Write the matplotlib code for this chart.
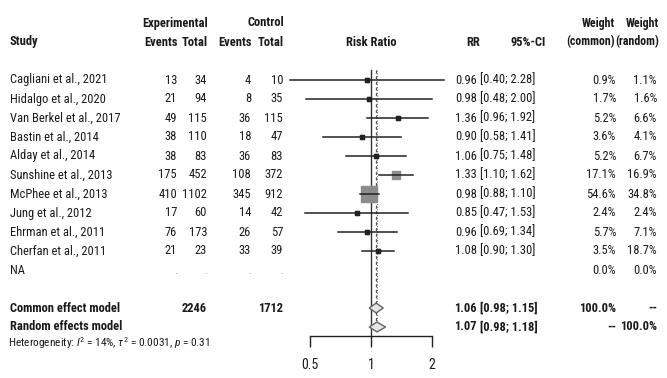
import matplotlib
matplotlib.use("Agg")
import matplotlib.pyplot as plt
import matplotlib.transforms as mtransforms
from matplotlib.patches import Polygon

plt.rcParams['font.family'] = ['Roboto Condensed', 'Liberation Sans', 'DejaVu Sans']
plt.rcParams['mathtext.fontset'] = 'custom'
plt.rcParams['mathtext.rm'] = 'Roboto Condensed'
plt.rcParams['mathtext.it'] = 'Roboto Condensed:italic'

# ---------------- data ----------------
studies = ["Cagliani et al., 2021", "Hidalgo et al., 2020", "Van Berkel et al., 2017",
           "Bastin et al., 2014", "Alday et al., 2014", "Sunshine et al., 2013",
           "McPhee et al., 2013", "Jung et al., 2012", "Ehrman et al., 2011",
           "Cherfan et al., 2011"]
exp_events = [13, 21, 49, 38, 38, 175, 410, 17, 76, 21]
exp_total = [34, 94, 115, 110, 83, 452, 1102, 60, 173, 23]
ctrl_events = [4, 8, 36, 18, 36, 108, 345, 14, 26, 33]
ctrl_total = [10, 35, 115, 47, 83, 372, 912, 42, 57, 39]
rr = [0.96, 0.98, 1.36, 0.90, 1.06, 1.33, 0.98, 0.85, 0.96, 1.08]
ci_low = [0.40, 0.48, 0.96, 0.58, 0.75, 1.10, 0.88, 0.47, 0.69, 0.90]
ci_high = [2.28, 2.00, 1.92, 1.41, 1.48, 1.62, 1.10, 1.53, 1.34, 1.30]
w_common = [0.9, 1.7, 5.2, 3.6, 5.2, 17.1, 54.6, 2.4, 5.7, 3.5]
w_random = [1.1, 1.6, 6.6, 4.1, 6.7, 16.9, 34.8, 2.4, 7.1, 18.7]

na_label = "NA"
na_weights = [0.0, 0.0]

model_labels = ["Common effect model", "Random effects model"]
model_rr = [1.06, 1.07]
model_low = [0.98, 0.98]
model_high = [1.15, 1.18]
total_exp = 2246
total_ctrl = 1712
heterogeneity = r"Heterogeneity: $\mathit{I}^2$ = 14%, $\tau^2$ = 0.0031, $\mathit{p}$ = 0.31"
xticks = [0.5, 1, 2]
xtick_labels = ["0.5", "1", "2"]

# ---------------- layout ----------------
W, H = 667, 378
fig = plt.figure(figsize=(W / 100, H / 100), dpi=100)

pitch = 19.0
row0_px = 80.0
axis_px = 336.0
top_r = -1.0
bot_r = (axis_px - row0_px) / pitch
ax_left_px, ax_right_px = 280, 450
ax = fig.add_axes([ax_left_px / W, (H - axis_px) / H,
                   (ax_right_px - ax_left_px) / W, (bot_r - top_r) * pitch / H])
ax.set_xscale('log', base=2)
ppu = 61.0  # pixels per log2 unit
ax.set_xlim(2 ** (-1 - (310 - ax_left_px) / ppu), 2 ** (1 + (ax_right_px - 432) / ppu))
ax.set_ylim(bot_r, top_r)
ax.patch.set_visible(False)
for s in ['top', 'right', 'left']:
    ax.spines[s].set_visible(False)
ax.spines['bottom'].set_bounds(xticks[0], xticks[-1])
ax.spines['bottom'].set_linewidth(1.0)
ax.spines['bottom'].set_color('#222222')
ax.set_yticks([])
ax.set_xticks(xticks)
ax.set_xticklabels(xtick_labels)
ax.minorticks_off()
ax.tick_params(axis='x', direction='out', length=8, width=1.0, pad=8, labelsize=10,
               color='#222222', labelcolor='#1a1a1a')

n = len(studies)
rows = list(range(n))
na_row = n
model_rows = [n + 2, n + 3]

# reference lines
ax.plot([1, 1], [-0.55, bot_r], color='#333333', lw=1.0, zorder=1)
ax.plot([model_rr[0]] * 2, [-0.55, model_rows[1] - 0.3], color='#555555', lw=0.9,
        ls=(0, (2.5, 2)), zorder=1)
ax.plot([model_rr[1]] * 2, [-0.55, model_rows[1] - 0.3], color='#777777', lw=0.8,
        ls=(0, (1, 1.5)), zorder=1)

# study squares and CIs
max_side = 11.0
for i in rows:
    side = max_side * (w_common[i] / max(w_common)) ** 0.5
    ax.plot([rr[i]], [i], marker='s', markersize=max(side, 2.2), color='#8c8c8c',
            markeredgecolor='#8c8c8c', zorder=2)
    ax.plot([ci_low[i], ci_high[i]], [i, i], color='#222222', lw=1.1, zorder=3)
    if side < 4:
        ax.plot([rr[i]], [i], marker='s', markersize=2.6, color='#222222', zorder=4)

# diamonds
for r, est, lo, hi in zip(model_rows, model_rr, model_low, model_high):
    h = 0.26
    poly = Polygon([(lo, r), (est, r - h), (hi, r), (est, r + h)], closed=True,
                   facecolor='#e6e6e6', edgecolor='#666666', lw=1.0, zorder=4)
    ax.add_patch(poly)

# ---------------- text table ----------------
tr = mtransforms.blended_transform_factory(fig.transFigure, ax.transData)
fs = 9.0
tc = '#1a1a1a'


def put(xpx, r, s, ha='right', bold=False, size=fs, color=tc):
    ax.text(xpx / W, r, s, transform=tr, ha=ha, va='center', fontsize=size,
            fontweight='bold' if bold else 'normal', color=color, clip_on=False)


# headers
put(175, -3.0, "Experimental", ha='center', bold=True)
put(284, -3.0, "Control", bold=True)
put(10, -2.0, "Study", ha='left', bold=True)
put(178, -2.0, "Events", bold=True)
put(208, -2.0, "Total", bold=True)
put(252, -2.0, "Events", bold=True)
put(284, -2.0, "Total", bold=True)
put(371, -2.0, "Risk Ratio", ha='center', bold=True)
put(480, -2.0, "RR", bold=True)
put(546, -2.0, "95%-CI", bold=True)
put(615, -3.0, "Weight", bold=True, size=8.6)
put(615, -2.0, "(common)", bold=True, size=8.6)
put(659, -3.0, "Weight", bold=True, size=8.6)
put(659, -2.0, "(random)", bold=True, size=8.6)

for i in rows:
    put(10, i, studies[i], ha='left')
    put(177, i, str(exp_events[i]))
    put(207, i, str(exp_total[i]))
    put(251, i, str(ctrl_events[i]))
    put(283, i, str(ctrl_total[i]))
    put(477, i, f"{rr[i]:.2f}")
    put(480, i, f"[{ci_low[i]:.2f}; {ci_high[i]:.2f}]", ha='left')
    put(616, i, f"{w_common[i]:.1f}%")
    put(657, i, f"{w_random[i]:.1f}%")

put(10, na_row, na_label, ha='left')
for xp in (177, 207, 251, 283):
    put(xp, na_row, ".", color='#aaaaaa')
put(616, na_row, f"{na_weights[0]:.1f}%")
put(657, na_row, f"{na_weights[1]:.1f}%")

put(10, model_rows[0], model_labels[0], ha='left', bold=True)
put(10, model_rows[1], model_labels[1], ha='left', bold=True)
put(207, model_rows[0], str(total_exp), bold=True)
put(283, model_rows[0], str(total_ctrl), bold=True)
for r, est, lo, hi in zip(model_rows, model_rr, model_low, model_high):
    put(477, r, f"{est:.2f}", bold=True)
    put(480, r, f"[{lo:.2f}; {hi:.2f}]", ha='left', bold=True)
put(616, model_rows[0], "100.0%", bold=True)
put(657, model_rows[0], "--", bold=True)
put(616, model_rows[1], "--", bold=True)
put(657, model_rows[1], "100.0%", bold=True)

put(8, model_rows[1] + 0.85, heterogeneity, ha='left', size=8.2)

fig.savefig("out.png", dpi=100)
